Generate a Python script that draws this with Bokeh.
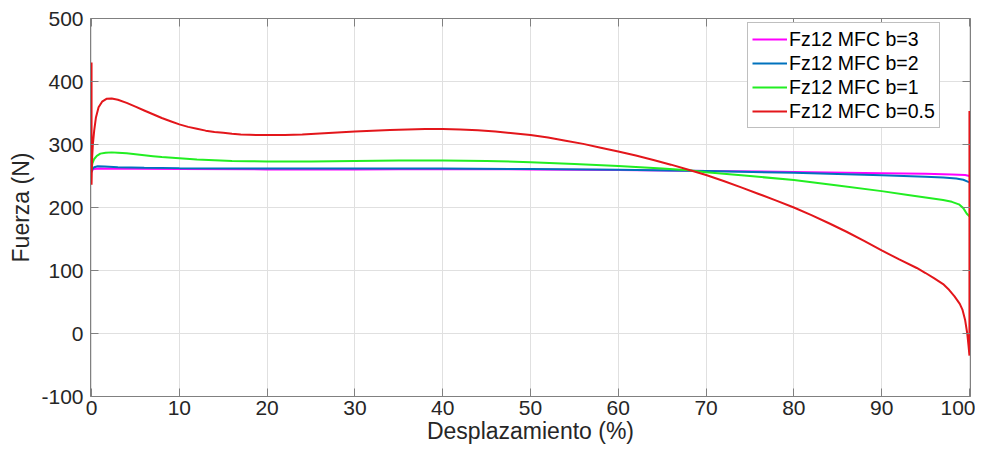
from bokeh.plotting import figure
from bokeh.models import Range1d, LinearAxis, Legend, LegendItem, FixedTicker, CustomJSTickFormatter
from bokeh.embed import file_html
from bokeh.resources import INLINE

# ---- data ----
x_b3 = [0, 0.2, 1, 5, 10, 20, 30, 40, 50, 60, 70, 80, 90, 95, 98, 99.5, 100]
y_b3 = [258, 261, 262, 261.5, 261, 260.5, 260.5, 261, 260.5, 259.5, 258, 256.5, 254.5, 253.5, 252.5, 251.5, 250]

x_b2 = [0, 0.1, 0.3, 0.7, 1.5, 3, 6, 10, 20, 30, 40, 50, 60, 70, 80, 90, 95, 97, 98.5, 99.3, 99.8, 100]
y_b2 = [256, 261, 264, 265.5, 265, 264, 263, 262.5, 262, 262, 262, 261, 260, 258, 255, 251, 249, 247.5, 246, 244, 241, 240]

x_b1 = [0, 0.1, 0.3, 0.6, 1.0, 1.6, 2.3, 3, 4, 5, 6, 7, 8, 10, 12, 14, 16, 18, 20, 25, 30, 35, 40,
        45, 50, 55, 60, 65, 68, 70, 75, 80, 85, 90, 93, 95, 97, 98, 98.8, 99.3, 99.7, 100]
y_b1 = [262, 270, 277, 282, 285.5, 287, 287.5, 287, 286, 284.5, 283, 281.5, 280, 278, 276, 275, 274, 273.5, 273, 273.2, 273.8, 274.5, 274.8,
        274, 272, 269, 266, 262, 259, 256, 250, 243.5, 235, 226, 220, 216, 212, 209, 205, 199, 190, 186]

x_b05 = [0, 0, 0.05, 0.15, 0.3, 0.5, 0.8, 1.2, 1.7, 2.3, 3, 4, 5, 6, 7, 8, 9, 10, 11, 12, 13, 14, 15, 16, 17, 18, 19, 20,
         22, 24, 26, 28, 30, 32, 34, 36, 38, 40, 42, 44, 46, 48, 50, 52, 54, 56, 58, 60, 62, 64, 66, 68, 70,
         72, 74, 76, 78, 80, 82, 84, 86, 88, 90, 92, 94, 95, 96, 97, 97.7, 98.3, 98.9, 99.2, 99.5, 99.75, 99.9, 100, 100]
y_b05 = [430, 236, 275, 300, 322, 343, 359, 368, 372.5, 373, 371, 366, 360, 354, 348, 342, 337, 332, 328, 325, 322, 320, 318.5, 317, 316, 315.5, 315, 315,
         315, 316, 317.5, 319, 320.5, 322, 323, 324, 324.5, 324.5, 324, 322.5, 320.5, 318, 315, 311, 306, 301, 295, 289, 282.5, 275.5, 268, 260, 251.5,
         242, 232, 221.5, 211, 200, 188, 175, 161.5, 147, 132, 117.5, 104, 96, 87.5, 78.5, 69, 59, 47, 38, 22, 0, -20, -35, 353]

labels = ["Fz12 MFC b=3", "Fz12 MFC b=2", "Fz12 MFC b=1", "Fz12 MFC b=0.5"]
colors = ["#ff00ff", "#0072bd", "#22ee22", "#e3161b"]

x_ticks = [0, 10, 20, 30, 40, 50, 60, 70, 80, 90, 100]
y_ticks = [-100, 0, 100, 200, 300, 400, 500]

FONT = "Liberation Sans"
AX = "#808080"
TXT = "#262626"

p = figure(width=975, height=450, output_backend="svg", toolbar_location=None,
           x_range=Range1d(-0.12, 100.12), y_range=Range1d(-100, 500),
           min_border_left=90, min_border_right=5, min_border_top=18, min_border_bottom=54,
           x_axis_label="Desplazamiento (%)", y_axis_label="Fuerza (N)")
p.outline_line_color = None
p.background_fill_color = "white"
p.border_fill_color = "white"

series = [(x_b3, y_b3), (x_b2, y_b2), (x_b1, y_b1), (x_b05, y_b05)]
renderers = []
for (xs, ys), c in zip(series, colors):
    r = p.line(xs, ys, line_color=c, line_width=2)
    renderers.append(r)

for ax in p.xaxis:
    ax.ticker = FixedTicker(ticks=x_ticks)
for ax in p.yaxis:
    ax.ticker = FixedTicker(ticks=y_ticks)
    ax.major_label_overrides = {t: str(t) for t in y_ticks}

for ax in list(p.xaxis) + list(p.yaxis):
    ax.axis_line_color = AX
    ax.major_tick_line_color = AX
    ax.major_tick_in = 8
    ax.major_tick_out = 0
    ax.minor_tick_line_color = None
    ax.major_label_text_font = FONT
    ax.major_label_text_font_size = "21px"
    ax.major_label_text_color = TXT
    ax.axis_label_text_font = FONT
    ax.axis_label_text_font_size = "23px"
    ax.axis_label_text_font_style = "normal"
    ax.axis_label_text_color = TXT
p.xaxis.major_label_standoff = 4
p.xaxis.axis_label_standoff = 0
p.yaxis.major_label_standoff = 7
p.yaxis.axis_label_standoff = 4

# box axes (top and right) with inward ticks, MATLAB style
blank = CustomJSTickFormatter(code="return ''")
top = LinearAxis(ticker=FixedTicker(ticks=x_ticks), formatter=blank,
                 axis_line_color=AX, major_tick_line_color=AX, major_tick_in=8, major_tick_out=0,
                 minor_tick_line_color=None, major_label_standoff=0)
right = LinearAxis(ticker=FixedTicker(ticks=y_ticks), formatter=blank,
                   axis_line_color=AX, major_tick_line_color=AX, major_tick_in=8, major_tick_out=0,
                   minor_tick_line_color=None, major_label_standoff=0)
p.add_layout(top, "above")
p.add_layout(right, "right")

p.xgrid.ticker = FixedTicker(ticks=x_ticks)
p.ygrid.ticker = FixedTicker(ticks=y_ticks)
p.grid.grid_line_color = "#e0e0e0"
p.grid.grid_line_width = 1

legend = Legend(items=[LegendItem(label=l, renderers=[r]) for l, r in zip(labels, renderers)],
                location=(657, 268))
legend.label_text_font = FONT
legend.label_text_font_size = "19.5px"
legend.label_text_color = "#000000"
legend.glyph_width = 35
legend.glyph_height = 24
legend.label_height = 24
legend.label_standoff = 2
legend.spacing = 0
legend.padding = 4
legend.margin = 0
legend.border_line_color = "#808080"
legend.border_line_width = 1
legend.background_fill_color = "white"
legend.background_fill_alpha = 1
p.add_layout(legend, "center")

open("out.html", "w").write(file_html(p, INLINE))
